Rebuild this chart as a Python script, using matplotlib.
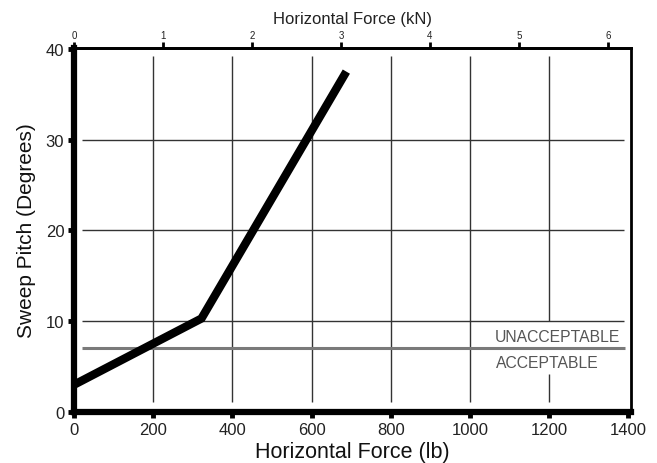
import matplotlib
matplotlib.use("Agg")
import matplotlib.pyplot as plt

plt.rcParams['font.family'] = ['Liberation Sans', 'DejaVu Sans']

# Data
force_lb = [0, 322, 688]
pitch_deg = [3.0, 10.3, 37.5]
threshold_deg = 7.1
x_ticks = [0, 200, 400, 600, 800, 1000, 1200, 1400]
y_ticks = [0, 10, 20, 30, 40]
kn_ticks = [0, 1, 2, 3, 4, 5, 6]
grid_x = [200, 400, 600, 800, 1000, 1200]
grid_y = [10, 20, 30]
LB_PER_KN = 224.809

fig = plt.figure(figsize=(6.57, 4.64), dpi=100)
ax = fig.add_axes([0.1126, 0.1099, 0.8478, 0.7845])
ax.set_xlim(0, 1407)
ax.set_ylim(0, 40.1)

# grid lines (drawn with small gaps from the frame)
for gx in grid_x:
    if gx == 1200:
        ax.vlines(gx, 1.1, 4.2, color='#333333', lw=1.0)
        ax.vlines(gx, 10, 39.2, color='#333333', lw=1.0)
    else:
        ax.vlines(gx, 1.1, 39.2, color='#333333', lw=1.0)
for gy in grid_y:
    ax.hlines(gy, 20, 1390, color='#333333', lw=1.0)

# threshold line
ax.hlines(threshold_deg, 20, 1392, color='#7a7a7a', lw=2.2)
ax.text(1063, threshold_deg + 1.2, 'UNACCEPTABLE', ha='left', va='center',
        fontsize=11.3, color='#555555')
ax.text(1066, threshold_deg - 1.6, 'ACCEPTABLE', ha='left', va='center',
        fontsize=11.3, color='#555555')

# main curve
ax.plot(force_lb, pitch_deg, color='black', lw=6, solid_capstyle='butt',
        solid_joinstyle='miter')

# spines
ax.spines['left'].set_linewidth(4.5)
ax.spines['bottom'].set_linewidth(4.5)
ax.spines['top'].set_linewidth(2.0)
ax.spines['right'].set_linewidth(2.0)

ax.set_xticks(x_ticks)
ax.set_yticks(y_ticks)
ax.tick_params(axis='both', direction='out', length=4, width=3.5,
               labelsize=12, pad=3, labelcolor='#222222')
ax.set_xlabel('Horizontal Force (lb)', fontsize=15.5, labelpad=3,
              color='#111111')
ax.set_ylabel('Sweep Pitch (Degrees)', fontsize=15, labelpad=7,
              color='#111111')

top = ax.secondary_xaxis('top', functions=(lambda x: x / LB_PER_KN,
                                           lambda k: k * LB_PER_KN))
top.set_xticks(kn_ticks)
top.tick_params(direction='out', length=4, width=2, labelsize=7, pad=2,
                labelcolor='#222222')
top.spines['top'].set_linewidth(2.0)
top.set_xlabel('Horizontal Force (kN)', fontsize=12, labelpad=5,
               color='#222222')

fig.savefig('out.png', dpi=100)
